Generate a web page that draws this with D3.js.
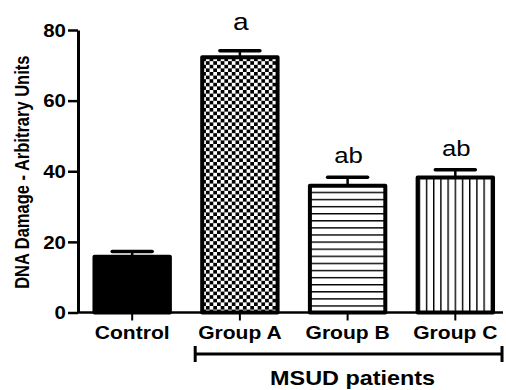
<!DOCTYPE html>
<html>
<head>
<meta charset="utf-8">
<script src="https://cdn.jsdelivr.net/npm/d3@7"></script>
<style>
  body { margin: 0; background: #fff; }
  text { font-family: "Liberation Sans", Arial, sans-serif; }
</style>
</head>
<body>
<script>
// Chart values
const groups = ["Control", "Group A", "Group B", "Group C"];
const means = [15.8, 72.3, 35.9, 38.2];
const sems = [1.5, 1.8, 2.4, 2.2];
const letters = ["", "a", "ab", "ab"];
const fills = ["solid", "checker", "hlines", "vlines"];
const yTicks = [0, 20, 40, 60, 80];
const yTitle = "DNA Damage - Arbitrary Units";
const bracketLabel = "MSUD patients";
const bracketGroups = ["Group A", "Group C"];

const width = 506, height = 390;
// the original figure is stretched a bit sideways, so text is too
const stretch = 1.17;

const svg = d3.select("body").append("svg")
    .attr("width", width)
    .attr("height", height);

// place a text at (px,py) and stretch it horizontally
function placeText(sel, px, py, rot) {
    return sel.attr("transform", "translate(" + px + "," + py + ") scale(" + stretch + ",1)" + (rot ? " rotate(" + rot + ")" : ""));
}

// scales
const x = d3.scaleBand()
    .domain(groups)
    .range([78, 509.5])
    .paddingInner(0.3)
    .paddingOuter(0.153);

const y = d3.scaleLinear()
    .domain([0, 80])
    .range([312.5, 30]);

// fill patterns
const defs = svg.append("defs");

const checker = defs.append("pattern")
    .attr("id", "checker")
    .attr("patternUnits", "userSpaceOnUse")
    .attr("x", x("Group A"))
    .attr("y", 0)
    .attr("width", 7.4)
    .attr("height", 7.2);
checker.append("rect").attr("width", 7.4).attr("height", 7.2).attr("fill", "#fff");
checker.append("rect").attr("width", 3.7).attr("height", 3.6).attr("fill", "#000");
checker.append("rect").attr("x", 3.7).attr("y", 3.6).attr("width", 3.7).attr("height", 3.6).attr("fill", "#000");

const hlines = defs.append("pattern")
    .attr("id", "hlines")
    .attr("patternUnits", "userSpaceOnUse")
    .attr("width", 7)
    .attr("height", 7.1);
hlines.append("rect").attr("width", 7).attr("height", 7.1).attr("fill", "#fff");
hlines.append("rect").attr("y", 0).attr("width", 7).attr("height", 1.4).attr("fill", "#000");

const vlines = defs.append("pattern")
    .attr("id", "vlines")
    .attr("patternUnits", "userSpaceOnUse")
    .attr("x", x("Group C") + 1)
    .attr("width", 7.2)
    .attr("height", 7);
vlines.append("rect").attr("width", 7.2).attr("height", 7).attr("fill", "#fff");
vlines.append("rect").attr("x", 0).attr("width", 1.4).attr("height", 7).attr("fill", "#000");

function fillFor(kind) {
    if (kind == "solid") return "#000";
    return "url(#" + kind + ")";
}

// bars
const bw = x.bandwidth();
svg.selectAll(".bar")
    .data(groups)
    .enter().append("rect")
    .attr("class", "bar")
    .attr("x", function(d) { return x(d); })
    .attr("y", function(d, i) { return y(means[i]); })
    .attr("width", bw)
    .attr("height", function(d, i) { return y(0) - y(means[i]); })
    .attr("fill", function(d, i) { return fillFor(fills[i]); })
    .attr("stroke", "#000")
    .attr("stroke-width", 4)
    .attr("stroke-linejoin", "round");

// error bars (upper only)
const capW = 40;
svg.selectAll(".errStem")
    .data(groups)
    .enter().append("line")
    .attr("x1", function(d) { return x(d) + bw / 2; })
    .attr("x2", function(d) { return x(d) + bw / 2; })
    .attr("y1", function(d, i) { return y(means[i]); })
    .attr("y2", function(d, i) { return y(means[i] + sems[i]); })
    .attr("stroke", "#000")
    .attr("stroke-width", 2.5);

svg.selectAll(".errCap")
    .data(groups)
    .enter().append("line")
    .attr("x1", function(d) { return x(d) + bw / 2 - capW / 2; })
    .attr("x2", function(d) { return x(d) + bw / 2 + capW / 2; })
    .attr("y1", function(d, i) { return y(means[i] + sems[i]); })
    .attr("y2", function(d, i) { return y(means[i] + sems[i]); })
    .attr("stroke", "#000")
    .attr("stroke-width", 3.5)
    .attr("stroke-linecap", "round");

// significance letters
svg.selectAll(".letter")
    .data(groups)
    .enter().append("text")
    .each(function(d, i) {
        placeText(d3.select(this), x(d) + bw / 2 + 1,
            y(means[i] + sems[i]) - (letters[i].length == 1 ? 21 : 14));
    })
    .attr("text-anchor", "middle")
    .style("font-size", function(d, i) { return letters[i].length == 1 ? "24px" : "22px"; })
    .text(function(d, i) { return letters[i]; });

// y axis
const yAxis = svg.append("g")
    .attr("transform", "translate(" + x.range()[0] + ",0)")
    .call(d3.axisLeft(y).tickValues(yTicks).tickSize(10).tickSizeOuter(0));
yAxis.select(".domain").attr("stroke-width", 3);
yAxis.selectAll(".tick line").attr("stroke-width", 2.5);
yAxis.selectAll(".tick text")
    .attr("x", 0)
    .attr("dy", "0.36em")
    .attr("transform", "translate(-12,0) scale(" + stretch + ",1)")
    .style("font-family", "Liberation Sans, Arial, sans-serif")
    .style("font-size", "17.5px")
    .style("font-weight", "bold")
    .attr("fill", "#000");

// x axis baseline
svg.append("line")
    .attr("x1", x.range()[0])
    .attr("x2", x.range()[1] - 6.5)
    .attr("y1", y(0))
    .attr("y2", y(0))
    .attr("stroke", "#000")
    .attr("stroke-width", 2.5);

// x ticks under each bar
svg.selectAll(".xtick")
    .data(groups)
    .enter().append("line")
    .attr("x1", function(d) { return x(d) + bw / 2; })
    .attr("x2", function(d) { return x(d) + bw / 2; })
    .attr("y1", y(0))
    .attr("y2", y(0) + 8)
    .attr("stroke", "#000")
    .attr("stroke-width", 2);

svg.selectAll(".xlabel")
    .data(groups)
    .enter().append("text")
    .each(function(d) { placeText(d3.select(this), x(d) + bw / 2, 339); })
    .attr("text-anchor", "middle")
    .style("font-size", "18px")
    .style("font-weight", "bold")
    .text(function(d) { return d; });

// y title
placeText(svg.append("text"), 22, (y(0) + y(80)) / 2 + 1, -90)
    .attr("text-anchor", "middle")
    .style("font-size", "16.5px")
    .style("font-weight", "bold")
    .attr("dy", "0.36em")
    .text(yTitle);

// MSUD bracket
const bx1 = x(bracketGroups[0]) - 7;
const bx2 = x(bracketGroups[1]) + bw + 9;
const by = 354;
svg.append("line")
    .attr("x1", bx1).attr("x2", bx2)
    .attr("y1", by).attr("y2", by)
    .attr("stroke", "#000").attr("stroke-width", 3);
[bx1, bx2].forEach(function(bx) {
    svg.append("line")
        .attr("x1", bx).attr("x2", bx)
        .attr("y1", by - 8).attr("y2", by + 8)
        .attr("stroke", "#000").attr("stroke-width", 3);
});
placeText(svg.append("text"), (bx1 + bx2) / 2 + 4, 385)
    .attr("text-anchor", "middle")
    .style("font-size", "20px")
    .style("font-weight", "bold")
    .text(bracketLabel);
</script>
</body>
</html>
